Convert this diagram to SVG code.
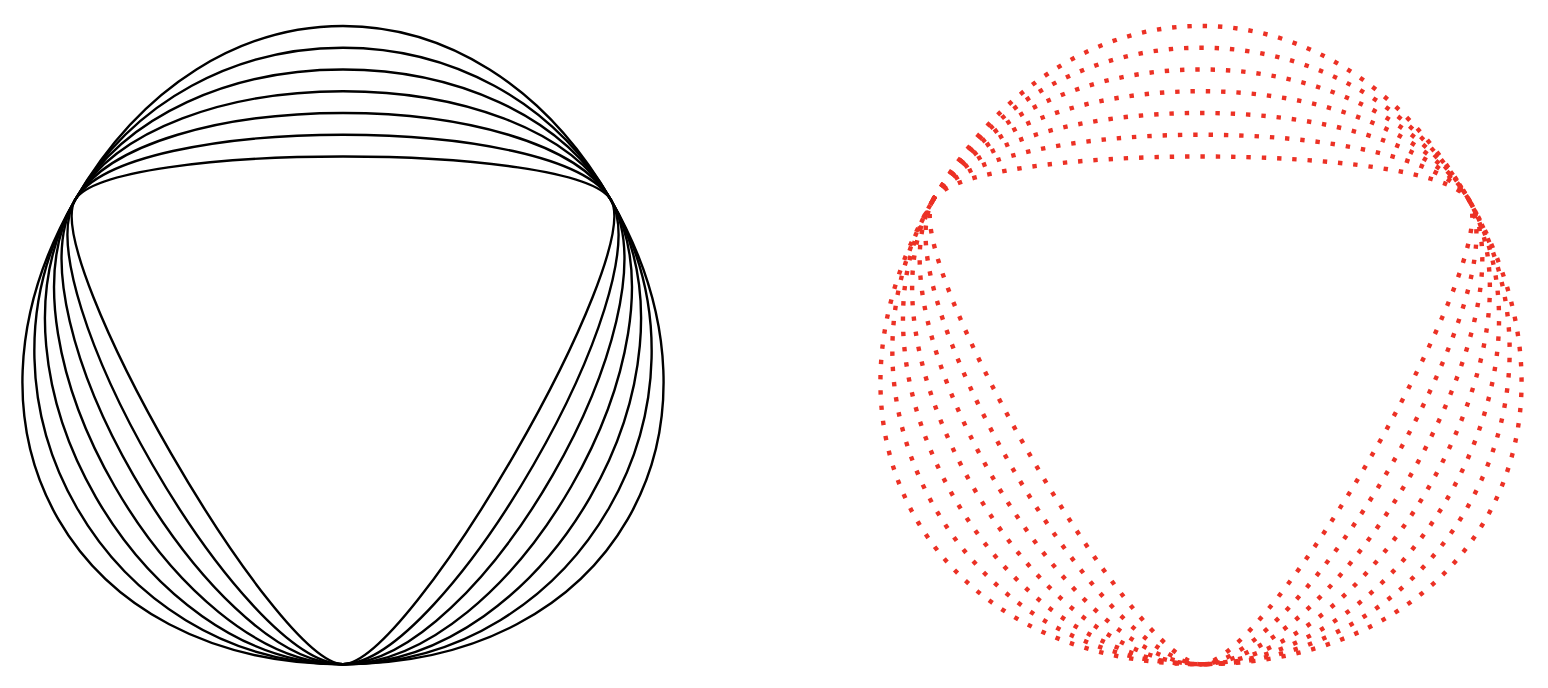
<svg xmlns="http://www.w3.org/2000/svg" xmlns:xlink="http://www.w3.org/1999/xlink" width="1548" height="688" viewBox="0 0 1548 688">
<style>
.solid{fill:none;stroke:#000;stroke-width:2.4}
.dotted{fill:none;stroke:#ec3125;stroke-width:4.4;stroke-dasharray:4.4 10.9;stroke-linecap:butt}
</style>
<defs>
<g id="curves">
<path id="c1" d="M75 200C108.5 141.98 577.5 141.98 611 200C644.5 258.02 410 664.2 343 664.2C276 664.2 41.5 258.02 75 200Z"/>
<path id="c2" d="M75 200C125.25 112.97 560.75 112.97 611 200C661.25 287.03 443.5 664.2 343 664.2C242.5 664.2 24.75 287.03 75 200Z"/>
<path id="c3" d="M75 200C142 83.96 544 83.96 611 200C678 316.04 477 664.2 343 664.2C209 664.2 8 316.04 75 200Z"/>
<path id="c4" d="M75 200C158.75 54.94 527.25 54.94 611 200C694.75 345.06 510.5 664.2 343 664.2C175.5 664.2 -8.75 345.06 75 200Z"/>
<path id="c5" d="M75 200C175.5 25.93 510.5 25.93 611 200C711.5 374.07 544 664.2 343 664.2C142 664.2 -25.5 374.07 75 200Z"/>
<path id="c6" d="M75 200C192.25 -3.08 493.75 -3.08 611 200C728.25 403.08 577.5 664.2 343 664.2C108.5 664.2 -42.25 403.08 75 200Z"/>
<path id="c7" d="M75 200C209 -32.09 477 -32.09 611 200C745 432.09 611 664.2 343 664.2C75 664.2 -59 432.09 75 200Z"/>
</g>
</defs>
<g id="left-figure">
<use href="#curves" xlink:href="#curves" class="solid"/>
</g>
<g id="right-figure">
<use href="#curves" xlink:href="#curves" class="dotted" x="858"/>
</g>
</svg>
